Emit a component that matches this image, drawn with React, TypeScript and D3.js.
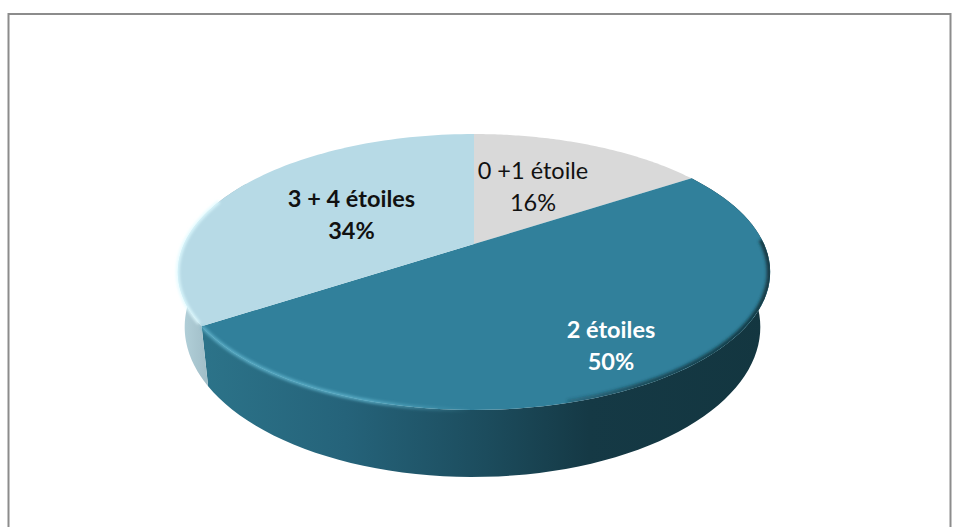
import React from "react";
import * as d3 from "d3";

const categories = ["0 +1 étoile", "2 étoiles", "3 + 4 étoiles"];
const values = [15.7, 50, 34.3];
const topColors = ["#d9d9d9", "#31809b", "#b7dae6"];
const labelColors = ["#111111", "#ffffff", "#111111"];
const labelWeights = [400, 700, 700];
const labelCenters = [[533, 179], [611, 338], [351.5, 207]];

type Plane = { cx: number; cy: number; k: number; a: number; c: number };
const topPlane: Plane = { cx: 474, cy: 244, k: 290, a: 132.3, c: -0.203 };
const basePlane: Plane = { cx: 472.5, cy: 297, k: 282, a: 144, c: -0.2 };

const project = (p: Plane, t: number): [number, number] => {
  const x = Math.sin(t);
  const y = -Math.cos(t);
  const d = 1 + p.c * y;
  return [p.cx + (p.k * x) / d, p.cy + (p.a * y) / d];
};

const rimPoints = (p: Plane, t0: number, t1: number) =>
  d3.range(0, 81).map((i) => project(p, t0 + ((t1 - t0) * i) / 80));

const line = d3.line();
const rad = (deg: number) => (deg * Math.PI) / 180;

export default function App() {
  const arcs = d3.pie<number>().sort(null)(values);

  const faces = arcs.map((a) =>
    line([[topPlane.cx, topPlane.cy], ...rimPoints(topPlane, a.startAngle, a.endAngle)])! + "Z"
  );
  const wall = (t0: number, t1: number) =>
    line([...rimPoints(topPlane, t0, t1), ...rimPoints(basePlane, t0, t1).reverse()])! + "Z";

  const tealArc = arcs[1];
  const blueArc = arcs[2];

  return (
    <svg
      width={960}
      height={527}
      style={{ position: "fixed", left: 0, top: 0, background: "#fff" }}
      fontFamily="Lato, 'Open Sans', sans-serif"
    >
      <defs>
        <linearGradient id="wallTeal" gradientUnits="userSpaceOnUse" x1={204} x2={770} y1={0} y2={0}>
          <stop offset="0" stopColor="#2c7389" />
          <stop offset="0.25" stopColor="#25637a" />
          <stop offset="0.5" stopColor="#1c4c5d" />
          <stop offset="0.68" stopColor="#153945" />
          <stop offset="1" stopColor="#133640" />
        </linearGradient>
        <linearGradient id="wallBlue" gradientUnits="userSpaceOnUse" x1={178} x2={210} y1={0} y2={0}>
          <stop offset="0" stopColor="#b5d3dc" />
          <stop offset="1" stopColor="#9fbcc6" />
        </linearGradient>
        <linearGradient id="rimTeal" gradientUnits="userSpaceOnUse" x1={204} x2={470} y1={0} y2={0}>
          <stop offset="0" stopColor="#5fb3cc" stopOpacity="0.9" />
          <stop offset="0.6" stopColor="#5fb3cc" stopOpacity="0.9" />
          <stop offset="1" stopColor="#5fb3cc" stopOpacity="0" />
        </linearGradient>
        <linearGradient id="rimDark" gradientUnits="userSpaceOnUse" x1={520} x2={770} y1={0} y2={0}>
          <stop offset="0" stopColor="#133640" stopOpacity="0" />
          <stop offset="0.5" stopColor="#133640" stopOpacity="0.7" />
          <stop offset="1" stopColor="#133640" stopOpacity="0.95" />
        </linearGradient>
        <filter id="soft" x="-10%" y="-10%" width="120%" height="120%">
          <feGaussianBlur stdDeviation="1.5" />
        </filter>
        <clipPath id="topFace">
          <path d={line(rimPoints(topPlane, 0, Math.PI * 2))! + "Z"} />
        </clipPath>
      </defs>

      <rect x={8.5} y={14} width={942} height={530} fill="#fff" stroke="#8c8c8c" strokeWidth={2} />

      <path d={wall(tealArc.startAngle, tealArc.endAngle)} fill="url(#wallTeal)" />
      <path d={wall(blueArc.startAngle, rad(300))} fill="url(#wallBlue)" />

      {faces.map((d, i) => (
        <path key={categories[i]} d={d} fill={topColors[i]} />
      ))}

      <path
        d={line(rimPoints(topPlane, rad(150), tealArc.endAngle - 0.005))!}
        fill="none"
        stroke="url(#rimTeal)"
        strokeWidth={3.5}
        filter="url(#soft)"
      />
      <g clipPath="url(#topFace)">
        <path
          d={line(rimPoints(topPlane, rad(88), rad(165)))!}
          fill="none"
          stroke="url(#rimDark)"
          strokeWidth={7}
          filter="url(#soft)"
        />
      </g>
      <path
        d={line(rimPoints(topPlane, blueArc.startAngle + 0.02, rad(290)))!}
        fill="none"
        stroke="#dffaff"
        strokeWidth={3}
        filter="url(#soft)"
      />

      {categories.map((c, i) => (
        <text
          key={c}
          textAnchor="middle"
          fontSize={23.5}
          fontWeight={labelWeights[i]}
          fill={labelColors[i]}
        >
          <tspan x={labelCenters[i][0]} y={labelCenters[i][1]}>{c}</tspan>
          <tspan x={labelCenters[i][0]} y={labelCenters[i][1] + 31.5}>{Math.round(values[i])}%</tspan>
        </text>
      ))}
    </svg>
  );
}
